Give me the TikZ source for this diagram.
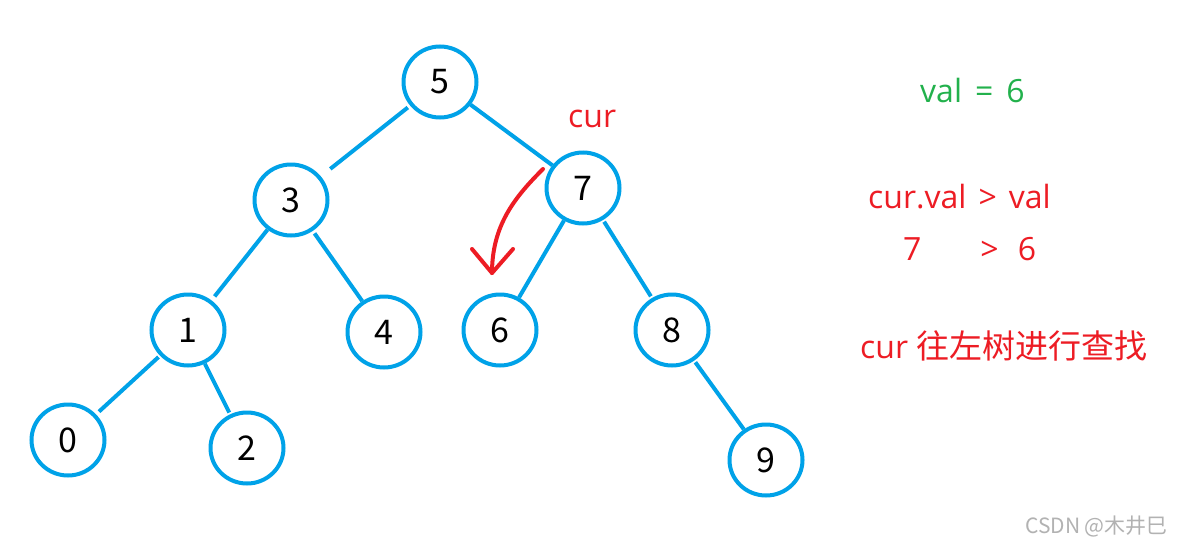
\documentclass[tikz,border=0pt]{standalone}
\usepackage{fontspec}
\setmainfont{Open Sans}
\newfontfamily\cjk{Noto Sans CJK SC}
\usetikzlibrary{shapes.geometric,calc}
\definecolor{tblue}{HTML}{00A2E8}
\definecolor{tred}{HTML}{ED1C24}
\definecolor{tgreen}{HTML}{22B14C}
\tikzset{
  tnode/.style={ellipse, draw=tblue, line width=4pt, minimum width=73pt, minimum height=71pt, inner sep=0pt, font=\cjk\fontsize{34}{40}\selectfont, text=black},
  edge/.style={draw=tblue, line width=4pt},
  redline/.style={draw=tred, line width=4pt},
  rtext/.style={text=tred, font=\fontsize{32}{38}\selectfont, anchor=base west, inner sep=0pt},
  gtext/.style={text=tgreen, font=\fontsize{32}{38}\selectfont, anchor=base west, inner sep=0pt},
  wmark/.style={text=black!30, font=\cjk\fontsize{21}{25}\selectfont, anchor=base west, inner sep=0pt}
}
\begin{document}
\begin{tikzpicture}[x=1pt,y=-1pt]
\path[use as bounding box, fill=white] (0,0) rectangle (1177,546);
\node[tnode] (n5) at (440,82) {5};
\node[tnode] (n3) at (291,200) {3};
\node[tnode] (n7) at (583,188) {7};
\node[tnode] (n1) at (188,330) {1};
\node[tnode] (n4) at (384,332) {4};
\node[tnode] (n6) at (500,330) {6};
\node[tnode] (n8) at (672,330) {8};
\node[tnode] (n0) at (68,440) {0};
\node[tnode] (n2) at (247,448) {2};
\node[tnode] (n9) at (766,460) {9};
\draw[edge, shorten <=3pt, shorten >=12pt] (n5) -- (n3);
\draw[edge] (n5) -- (n7);
\draw[edge, shorten >=5pt] (n3) -- (n1);
\draw[edge, shorten <=3pt] (n3) -- (n4);
\draw[edge] (n7) -- (n6);
\draw[edge, shorten <=2pt, shorten >=2pt] (n7) -- (n8);
\draw[edge, shorten <=2pt, shorten >=4pt] (n1) -- (n0);
\draw[edge, shorten >=2pt] (n1) -- (n2);
\draw[edge, shorten <=2pt] (n8) -- (n9);
% red curved arrow
\coordinate (as) at (543,169);
\coordinate (at) at (492,273);
\draw[redline, line cap=round] (as) .. controls (515,197) and (492,225) .. (at);
\draw[redline, line cap=round, line join=round] ($(at)+(-20,-24)$) -- (at) -- ($(at)+(21,-24)$);
% labels
\node[rtext] (cur) at (568,127) {cur};
\node[gtext] (val) at (920,102) {val\hspace{13pt}=\hspace{13pt}6};
\node[rtext] (cmp1) at (868,208) {cur.val\hspace{12pt}>\hspace{12pt}val};
\node[rtext] (cmp2) at (903,260) {7\hspace{59pt}>\hspace{19pt}6};
\node[rtext] (msg) at (860,358) {cur {\cjk\fontsize{33}{38}\selectfont 往左树进行查找}};
\node[wmark] (wm) at (1025,533) {CSDN @木井巳};
\end{tikzpicture}
\end{document}
